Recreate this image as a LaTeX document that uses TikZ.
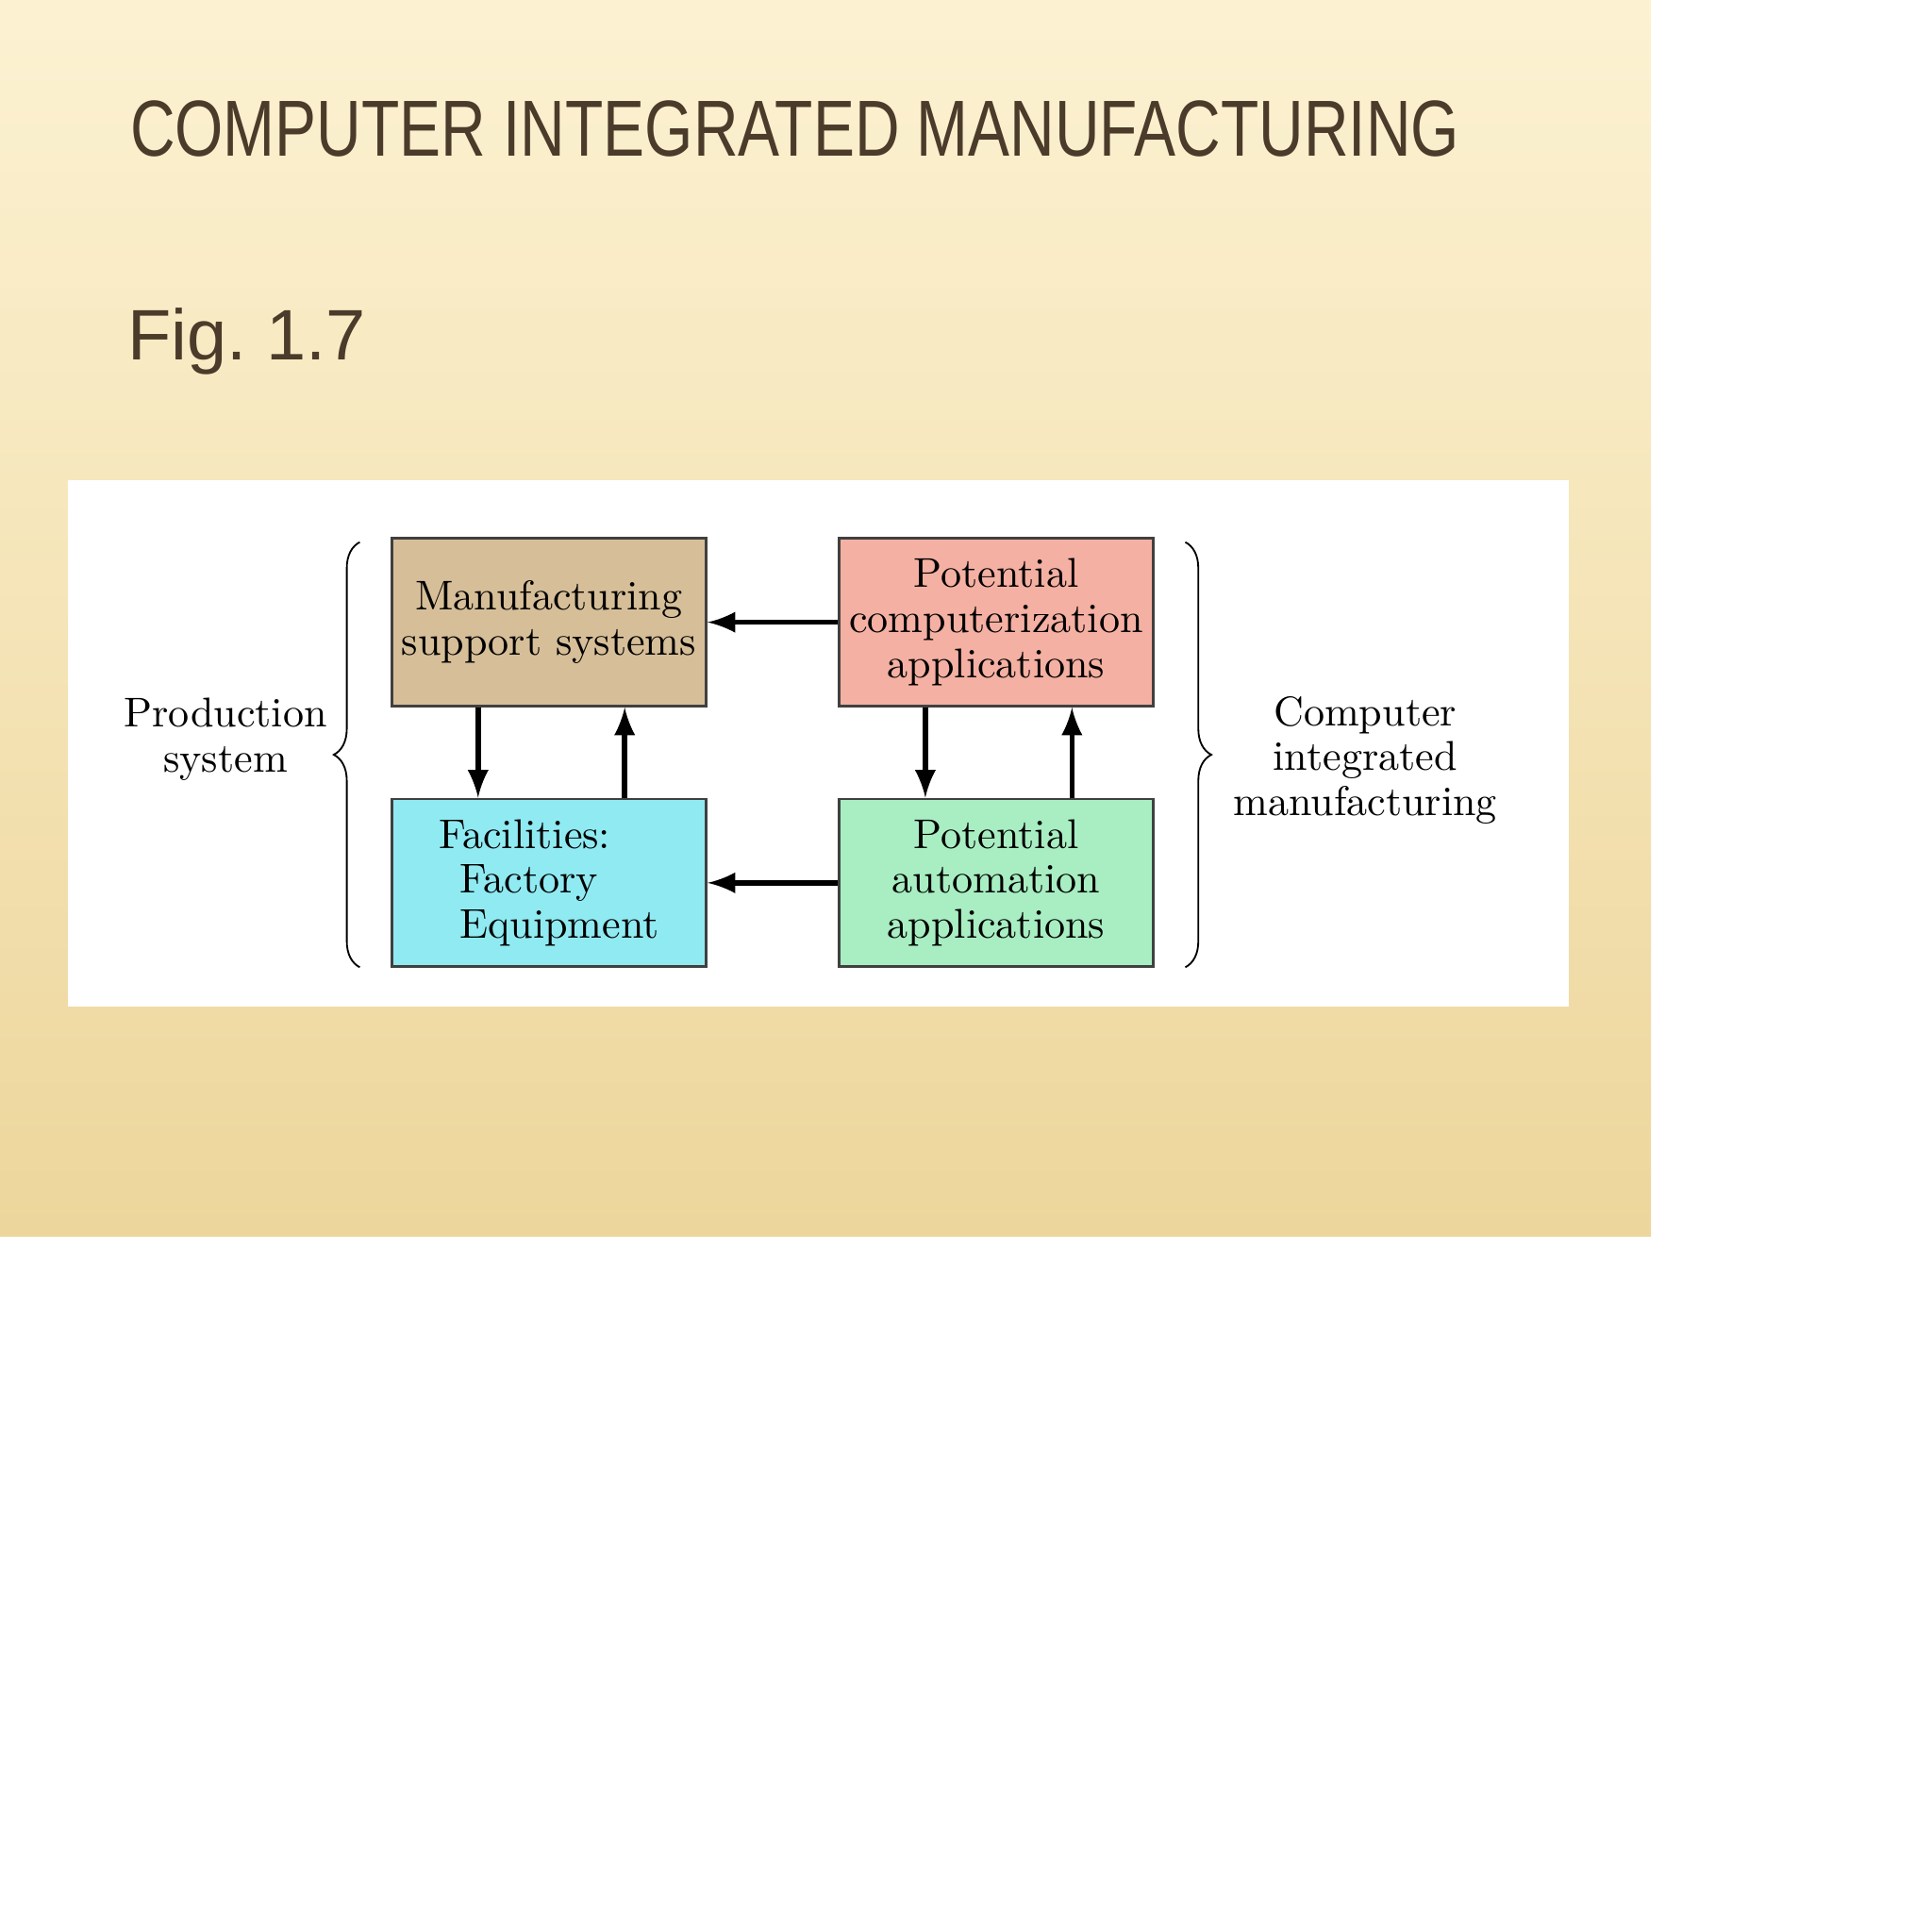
\documentclass[tikz,border=0pt]{standalone}
\usepackage{fontspec}
\setmainfont{Latin Modern Roman}
\newfontfamily\slidefont{Liberation Sans}
\usetikzlibrary{decorations.pathreplacing}
\definecolor{titlec}{HTML}{4A3B2A}
\definecolor{bgtop}{HTML}{FCF2D2}
\definecolor{bgbot}{HTML}{EDD69C}
\definecolor{tan}{HTML}{D6BE98}
\definecolor{salmon}{HTML}{F4B0A2}
\definecolor{cyanb}{HTML}{90EAF2}
\definecolor{greenb}{HTML}{A8EEC2}
\frenchspacing
\begin{document}
\begin{tikzpicture}[x=0.01cm,y=-0.01cm,
  blk/.style={draw=black!75,line width=0.6pt,minimum width=2.55cm,minimum height=1.36cm,inner sep=0pt,align=center,font=\fontsize{9.6pt}{10.4pt}\selectfont},
  lab/.style={align=center,font=\fontsize{9.6pt}{10.4pt}\selectfont},
  arr/.style={-latex,line width=1.2pt},
  br/.style={decorate,decoration={brace,amplitude=6pt},line width=0.4pt}]
\useasboundingbox (0,0) rectangle (1568,1568);
\fill[white] (0,0) rectangle (1568,1568);
\shade[top color=bgtop,bottom color=bgbot] (0,0) rectangle (1340,1003);
\node[anchor=south west,inner sep=0pt,text=titlec] (title) at (105,128) {\resizebox{10.78cm}{0.45cm}{\slidefont COMPUTER INTEGRATED MANUFACTURING}};
\node[anchor=south west,inner sep=0pt,text=titlec,font=\slidefont\fontsize{16.5pt}{18pt}\selectfont] (fig) at (103,305) {Fig. 1.7};
\fill[white] (55,390) rectangle (1273,817);
\node[blk,fill=tan] (mss) at (445.5,505) {Manufacturing\\support systems};
\node[blk,fill=salmon] (pca) at (808.5,505) {Potential\\computerization\\applications};
\node[blk,fill=cyanb,align=left] (fac) at (445.5,716.5) {Facilities:\\\hspace{0.17cm}Factory\\\hspace{0.17cm}Equipment};
\node[blk,fill=greenb] (paa) at (808.5,716.5) {Potential\\automation\\applications};
\draw[arr] (pca.west) -- (mss.east);
\draw[arr] (paa.west) -- (fac.east);
\draw[arr] (mss.south -| 388,0) -- (fac.north -| 388,0);
\draw[arr] (fac.north -| 507,0) -- (mss.south -| 507,0);
\draw[arr] (pca.south -| 751,0) -- (paa.north -| 751,0);
\draw[arr] (paa.north -| 870,0) -- (pca.south -| 870,0);
\coordinate (lb1) at (292,785); \coordinate (lb2) at (292,440);
\coordinate (rb1) at (962,440); \coordinate (rb2) at (962,785);
\draw[br] (lb1) -- (lb2);
\draw[br] (rb1) -- (rb2);
\node[lab] (ps) at (183,600) {Production\\system};
\node[lab] (cim) at (1108,617) {Computer\\integrated\\manufacturing};
\end{tikzpicture}
\end{document}
